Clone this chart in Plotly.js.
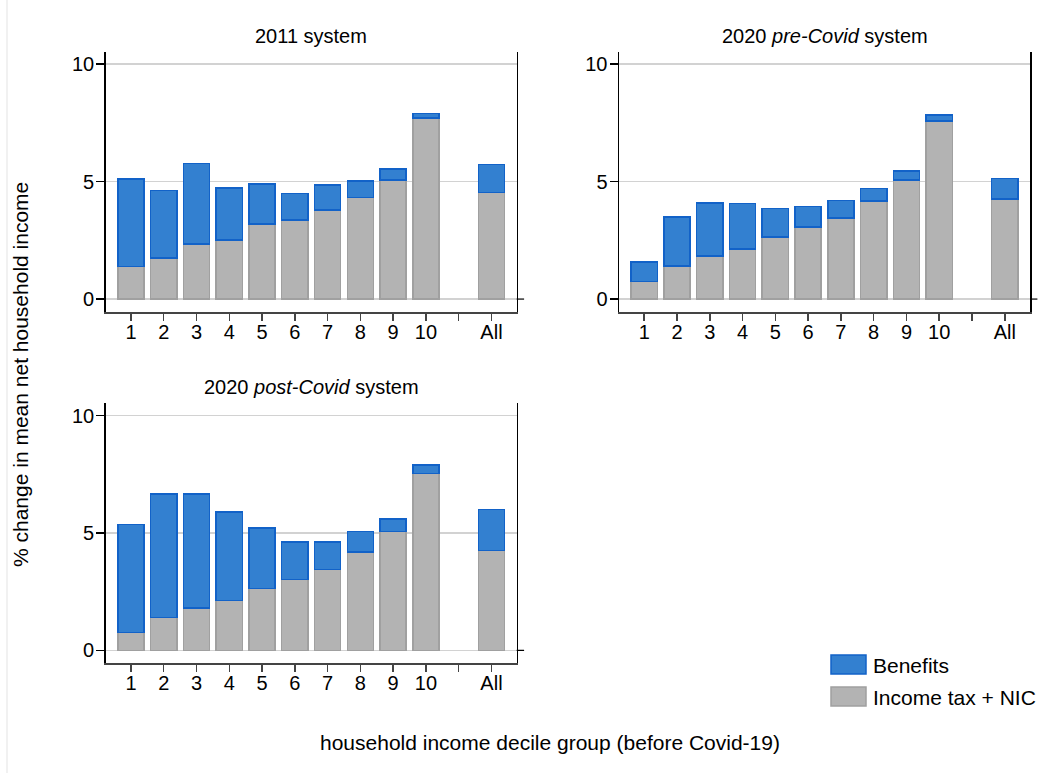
<!DOCTYPE html>
<html>
<head>
<meta charset="utf-8">
<script src="https://cdn.plot.ly/plotly-3.0.1.min.js"></script>
<style>
  html, body { margin: 0; padding: 0; background: #ffffff; }
  #chart { width: 1059px; height: 773px; }
</style>
</head>
<body>
<div id="chart"></div>
<script>
// Decile groups (before Covid-19) plus the all-households bar
const categories = ['1', '2', '3', '4', '5', '6', '7', '8', '9', '10', 'All'];
// Axis positions: deciles at 1..10, an empty slot at 11, "All" at 12
const tickPositions = [1, 2, 3, 4, 5, 6, 7, 8, 9, 10, 11, 12];
const tickLabels = ['1', '2', '3', '4', '5', '6', '7', '8', '9', '10', '', 'All'];

// % change in mean net household income, by component
const tax2011 = [1.38, 1.74, 2.34, 2.51, 3.19, 3.36, 3.79, 4.33, 5.06, 7.69, 4.54];
const benefits2011 = [3.73, 2.88, 3.43, 2.21, 1.70, 1.12, 1.06, 0.69, 0.47, 0.21, 1.19];

const taxPre = [0.75, 1.40, 1.83, 2.13, 2.64, 3.06, 3.45, 4.17, 5.06, 7.57, 4.26];
const benefitsPre = [0.82, 2.08, 2.26, 1.94, 1.22, 0.87, 0.75, 0.54, 0.39, 0.26, 0.86];

const taxPost = [0.77, 1.40, 1.80, 2.13, 2.64, 3.02, 3.45, 4.18, 5.06, 7.53, 4.26];
const benefitsPost = [4.58, 5.25, 4.85, 3.77, 2.58, 1.59, 1.16, 0.88, 0.54, 0.37, 1.73];

const panelTitles = ['2011 system', '2020 <i>pre-Covid</i> system', '2020 <i>post-Covid</i> system'];
const seriesNames = ['Benefits', 'Income tax + NIC'];

const BLUE = 'rgb(51,128,208)';
const BLUE_LINE = 'rgb(18,98,200)';
const GREY = 'rgb(179,179,179)';
const GREY_LINE = 'rgb(160,160,160)';
const FONT = 'Arial, "Liberation Sans", sans-serif';

// map category label to its x position on the numeric axis
const xPos = categories.map(c => c === 'All' ? 12 : Number(c));

const panels = [
  {tax: tax2011, ben: benefits2011, xa: 'x', ya: 'y'},
  {tax: taxPre, ben: benefitsPre, xa: 'x2', ya: 'y2'},
  {tax: taxPost, ben: benefitsPost, xa: 'x3', ya: 'y3'}
];

const traces = [];
panels.forEach(p => {
  traces.push({
    type: 'bar', x: xPos, y: p.tax, xaxis: p.xa, yaxis: p.ya,
    name: seriesNames[1], width: 0.8, showlegend: false,
    marker: {color: GREY, line: {color: GREY_LINE, width: 1.5}},
    hoverinfo: 'y'
  });
  traces.push({
    type: 'bar', x: xPos, y: p.ben, xaxis: p.xa, yaxis: p.ya,
    name: seriesNames[0], width: 0.8, showlegend: false,
    marker: {color: BLUE, line: {color: BLUE_LINE, width: 1.5}},
    hoverinfo: 'y'
  });
});

const W = 1059, H = 773;
const px = v => v / W;
const py = v => 1 - v / H;

function xAxis(domain, anchor) {
  return {
    domain: domain, anchor: anchor, range: [0.23, 12.77],
    tickmode: 'array', tickvals: tickPositions, ticktext: tickLabels,
    ticks: 'outside', ticklen: 7, tickwidth: 1.5, tickcolor: '#444',
    ticklabelstandoff: -6,
    showline: true, linecolor: '#444', linewidth: 1.5, mirror: false,
    showgrid: false, zeroline: false,
    tickfont: {family: FONT, size: 20, color: '#000'}
  };
}
function yAxis(domain, anchor) {
  return {
    domain: domain, anchor: anchor, range: [-0.55, 10.52],
    tickmode: 'array', tickvals: [0, 5, 10],
    ticks: 'outside', ticklen: 8, tickwidth: 1.2, tickcolor: '#000',
    ticklabelstandoff: -2,
    showline: true, linecolor: '#000', linewidth: 1.5, mirror: true,
    showgrid: true, gridcolor: '#d2d2d2', gridwidth: 1.5, zeroline: false,
    tickfont: {family: FONT, size: 20, color: '#000'}
  };
}

const topRow = [py(312), py(51.7)];
const bottomRow = [py(663.3), py(403.3)];
const leftCol = [px(105.7), px(516.7)];
const rightCol = [px(619), px(1030)];

const titleFont = {family: FONT, size: 20, color: '#000'};
const bigFont = {family: FONT, size: 21, color: '#000'};

const annotations = [
  {text: panelTitles[0], x: (leftCol[0] + leftCol[1]) / 2, y: py(36), xref: 'paper', yref: 'paper',
   showarrow: false, xanchor: 'center', yanchor: 'middle', font: titleFont},
  {text: panelTitles[1], x: (rightCol[0] + rightCol[1]) / 2, y: py(36), xref: 'paper', yref: 'paper',
   showarrow: false, xanchor: 'center', yanchor: 'middle', font: titleFont},
  {text: panelTitles[2], x: (leftCol[0] + leftCol[1]) / 2, y: py(387), xref: 'paper', yref: 'paper',
   showarrow: false, xanchor: 'center', yanchor: 'middle', font: titleFont},
  {text: '% change in mean net household income', x: px(20), y: py(375), xref: 'paper', yref: 'paper',
   showarrow: false, textangle: -90, xanchor: 'center', yanchor: 'middle', font: bigFont},
  {text: 'household income decile group (before Covid-19)', x: px(550), y: py(742), xref: 'paper', yref: 'paper',
   showarrow: false, xanchor: 'center', yanchor: 'middle', font: bigFont},
  {text: seriesNames[0], x: px(871), y: py(665), xref: 'paper', yref: 'paper',
   showarrow: false, xanchor: 'left', yanchor: 'middle', font: bigFont},
  {text: seriesNames[1], x: px(871), y: py(697), xref: 'paper', yref: 'paper',
   showarrow: false, xanchor: 'left', yanchor: 'middle', font: bigFont}
];

const shapes = [
  // legend keys
  {type: 'rect', xref: 'paper', yref: 'paper', x0: px(831), x1: px(866), y0: py(674), y1: py(655),
   fillcolor: BLUE, line: {color: BLUE_LINE, width: 1.5}},
  {type: 'rect', xref: 'paper', yref: 'paper', x0: px(831), x1: px(866), y0: py(706), y1: py(687),
   fillcolor: GREY, line: {color: GREY_LINE, width: 1.5}},
  // faint outer frame line on the left edge
  {type: 'line', xref: 'paper', yref: 'paper', x0: px(7), x1: px(7), y0: 0, y1: 1,
   line: {color: '#ececec', width: 1.5}}
];
// zero tick on the right-hand axis of each panel
[['x', 'y'], ['x2', 'y2'], ['x3', 'y3']].forEach(([xa, ya]) => {
  shapes.push({type: 'line', xref: xa + ' domain', yref: ya, x0: 1, x1: 1.018, y0: 0, y1: 0,
    line: {color: '#000', width: 1.2}});
});

const layout = {
  width: W, height: H,
  margin: {l: 0, r: 0, t: 0, b: 0},
  paper_bgcolor: '#ffffff', plot_bgcolor: '#ffffff',
  barmode: 'stack', showlegend: false,
  font: {family: FONT, color: '#000'},
  xaxis: xAxis(leftCol, 'y'), yaxis: yAxis(topRow, 'x'),
  xaxis2: xAxis(rightCol, 'y2'), yaxis2: yAxis(topRow, 'x2'),
  xaxis3: xAxis(leftCol, 'y3'), yaxis3: yAxis(bottomRow, 'x3'),
  annotations: annotations,
  shapes: shapes
};

Plotly.newPlot('chart', traces, layout, {displayModeBar: false, staticPlot: true});
</script>
</body>
</html>
